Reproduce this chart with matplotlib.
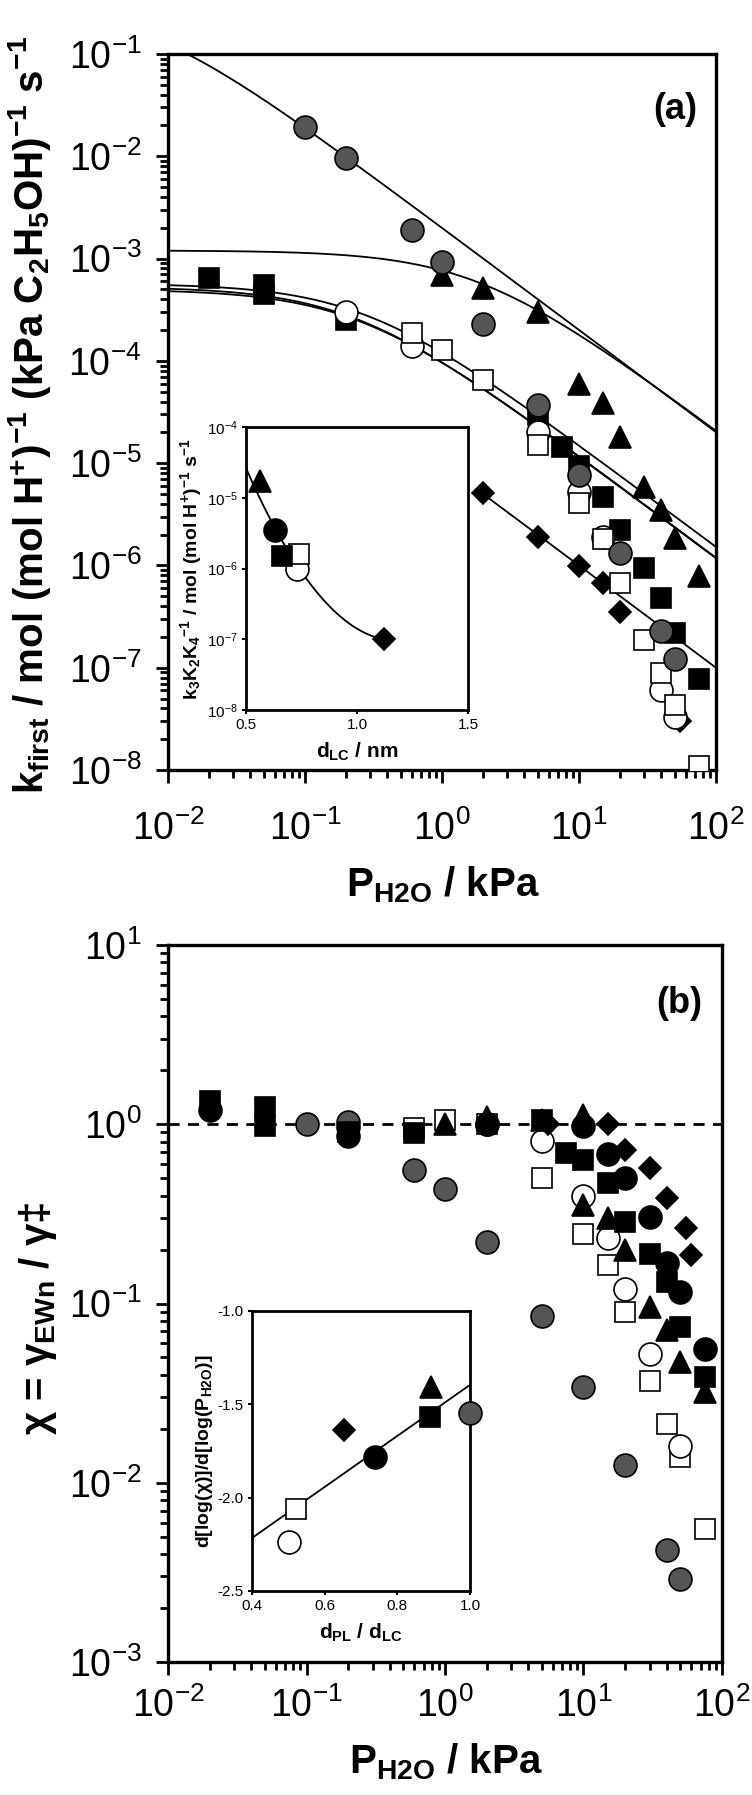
import matplotlib
matplotlib.use('Agg')
import matplotlib.pyplot as plt
import numpy as np
from matplotlib.ticker import LogLocator, NullFormatter, LogFormatterMathtext

plt.rcParams['font.family'] = ['Liberation Sans', 'DejaVu Sans']
plt.rcParams['mathtext.default'] = 'regular'

# ---------------- panel (a): k_first vs P_H2O ----------------
p_gray_a = [0.1, 0.2, 0.6, 1.0, 2, 5, 10, 20, 40, 50]
k_gray_a = [1.95e-2, 9.6e-3, 1.9e-3, 9.3e-4, 2.3e-4, 3.7e-5, 7.6e-6, 1.33e-6, 2.3e-7, 1.23e-7]

p_tri_a = [1.0, 2, 5, 10, 15, 20, 30, 40, 50, 75]
k_tri_a = [6.9e-4, 5.1e-4, 3.0e-4, 6.0e-5, 3.9e-5, 1.8e-5, 5.9e-6, 3.5e-6, 1.85e-6, 7.8e-7]

p_bsq_a = [0.02, 0.05, 0.05, 0.2, 5, 7.5, 10, 15, 20, 30, 40, 50, 75]
k_bsq_a = [6.4e-4, 5.5e-4, 4.5e-4, 2.5e-4, 2.96e-5, 1.45e-5, 9.3e-6, 4.7e-6, 2.2e-6, 9.4e-7, 4.8e-7, 2.2e-7, 7.7e-8]

p_ocir_a = [0.2, 0.6, 5, 10, 15, 40, 50]
k_ocir_a = [3.0e-4, 1.4e-4, 2.0e-5, 5.2e-6, 1.9e-6, 6.0e-8, 3.3e-8]

p_osq_a = [0.6, 1.0, 2, 5, 10, 15, 20, 30, 40, 50, 75]
k_osq_a = [1.86e-4, 1.29e-4, 6.5e-5, 1.5e-5, 4.1e-6, 1.8e-6, 6.7e-7, 1.85e-7, 8.9e-8, 4.3e-8, 1.1e-8]

p_dia_a = [2, 5, 10, 15, 20, 55]
k_dia_a = [5.1e-6, 1.9e-6, 9.8e-7, 6.7e-7, 3.5e-7, 3.0e-8]

# fitted curves k = A / (1 + K P)
fit_A = [0.323, 1.2e-3, 5.7e-4, 5.3e-4, 5.0e-4]
fit_K = [161.0, 0.57, 3.75, 4.5, 4.2]
fit_dia_A, fit_dia_K = 1.0e-3, 100.0

# inset (a)
d_lc = [0.563, 0.63, 0.66, 0.73, 0.74, 1.12]
k_inset = [1.74e-5, 3.5e-6, 1.5e-6, 1.0e-6, 1.6e-6, 1.0e-7]
inset_a_coef = [0.339, -12.487, 5.298]   # log10(k) = c0 + c1 d + c2 d^2

# ---------------- panel (b): chi vs P_H2O ----------------
p_gray_b = [0.1, 0.2, 0.6, 1.0, 2, 5, 10, 20, 40, 50]
x_gray_b = [1.0, 1.03, 0.556, 0.433, 0.221, 0.085, 0.034, 0.0126, 0.0042, 0.0029]

p_osq_b = [0.6, 1.0, 2, 5, 10, 15, 20, 30, 40, 50, 75]
x_osq_b = [0.955, 1.05, 1.0, 0.50, 0.245, 0.164, 0.09, 0.037, 0.0214, 0.014, 0.0055]

p_ocir_b = [0.2, 2, 5, 10, 15, 20, 30, 50]
x_ocir_b = [0.97, 1.0, 0.81, 0.40, 0.231, 0.12, 0.052, 0.016]

p_bsq_b = [0.02, 0.05, 0.05, 0.2, 0.6, 5, 7.5, 10, 15, 20, 30, 40, 50, 75]
x_bsq_b = [1.35, 1.25, 0.98, 0.9, 0.89, 1.05, 0.69, 0.63, 0.47, 0.286, 0.19, 0.132, 0.074, 0.039]

p_tri_b = [1.0, 2, 5, 10, 10, 15, 20, 30, 40, 50, 75]
x_tri_b = [1.0, 1.1, 1.05, 1.12, 0.355, 0.30, 0.20, 0.096, 0.071, 0.047, 0.032]

p_bcir_b = [0.02, 0.2, 2, 10, 15, 20, 30, 40, 50, 75]
x_bcir_b = [1.2, 0.86, 1.0, 0.98, 0.68, 0.50, 0.305, 0.168, 0.116, 0.056]

p_dia_b = [5.5, 15, 20, 30, 40, 55, 60]
x_dia_b = [1.0, 1.0, 0.72, 0.57, 0.39, 0.263, 0.186]

# inset (b)
dpl_dlc = [0.503, 0.521, 0.654, 0.739, 0.891, 0.893, 1.0]
slope_b = [-2.236, -2.062, -1.638, -1.784, -1.566, -1.405, -1.548]
inset_b_line = [-2.216, 1.367]   # y = a + b (x - 0.4)

GRAY = '#555555'
styles = {
    'gray': dict(marker='o', ms=16.5, mfc=GRAY, mec='black'),
    'bcir': dict(marker='o', ms=16.5, mfc='black', mec='black'),
    'ocir': dict(marker='o', ms=16.5, mfc='white', mec='black'),
    'bsq': dict(marker='s', ms=14.5, mfc='black', mec='black'),
    'osq': dict(marker='s', ms=14.5, mfc='white', mec='black'),
    'tri': dict(marker='^', ms=16, mfc='black', mec='black'),
    'dia': dict(marker='D', ms=11.5, mfc='black', mec='black'),
}


def pts(ax, x, y, key, z, clip=True):
    ax.plot(x, y, ls='none', mew=1.2, zorder=z, clip_on=clip, **styles[key])


def style_log_axes(ax, ylo, yhi, xpad):
    ax.set_xscale('log')
    ax.set_yscale('log')
    ax.set_xlim(1e-2, 1e2)
    ax.set_ylim(ylo, yhi)
    for ax_ in (ax.xaxis, ax.yaxis):
        ax_.set_major_locator(LogLocator(base=10, numticks=20))
        ax_.set_minor_locator(LogLocator(base=10, subs=np.arange(2, 10), numticks=20))
        ax_.set_minor_formatter(NullFormatter())
        ax_.set_major_formatter(LogFormatterMathtext())
    ax.tick_params(which='major', direction='out', length=9, width=2, labelsize=27)
    ax.tick_params(which='minor', direction='out', length=6, width=2)
    ax.tick_params(axis='x', which='major', pad=xpad)
    ax.tick_params(axis='y', which='major', pad=10)
    for s in ax.spines.values():
        s.set_linewidth(2.4)


fig = plt.figure(figsize=(7.52, 17.95), dpi=100)

# ---- panel (a)
ax1 = fig.add_axes([168 / 752, 1 - 770 / 1795, 548 / 752, 716 / 1795])
style_log_axes(ax1, 1e-8, 1e-1, 20)
pgrid = np.logspace(-2, 2, 400)
for A, K in zip(fit_A, fit_K):
    ax1.plot(pgrid, A / (1 + K * pgrid), color='black', lw=1.3, zorder=2)
pd = np.logspace(np.log10(2), 2, 100)
ax1.plot(pd, fit_dia_A / (1 + fit_dia_K * pd), color='black', lw=1.3, zorder=2)

pts(ax1, p_dia_a, k_dia_a, 'dia', 3)
pts(ax1, p_tri_a, k_tri_a, 'tri', 4)
pts(ax1, p_bsq_a, k_bsq_a, 'bsq', 5)
pts(ax1, p_ocir_a, k_ocir_a, 'ocir', 6)
pts(ax1, p_osq_a, k_osq_a, 'osq', 7)
pts(ax1, p_gray_a, k_gray_a, 'gray', 8, clip=False)

ax1.text(0.965, 0.922, '(a)', transform=ax1.transAxes, ha='right', va='center',
         fontsize=26, fontweight='bold')
fig.text(30 / 752, 1 - 415 / 1795,
         'k$_{first}$ / mol (mol H$^{+}$)$^{-1}$ (kPa C$_2$H$_5$OH)$^{-1}$ s$^{-1}$',
         rotation=90, ha='center', va='center', fontsize=29, fontweight='bold')
fig.text(443 / 752, 1 - 885 / 1795, 'P$_{H2O}$ / kPa', ha='center', va='center',
         fontsize=29, fontweight='bold')

# inset (a)
axi1 = fig.add_axes([246 / 752, 1 - 710 / 1795, 222 / 752, 283 / 1795])
axi1.set_yscale('log')
axi1.set_xlim(0.5, 1.5)
axi1.set_ylim(1e-8, 1e-4)
axi1.set_xticks([0.5, 1.0, 1.5])
axi1.set_xticklabels(['0.5', '1.0', '1.5'])
axi1.yaxis.set_major_locator(LogLocator(base=10, numticks=10))
axi1.yaxis.set_minor_locator(LogLocator(base=10, subs=[], numticks=10))
axi1.yaxis.set_major_formatter(LogFormatterMathtext())
axi1.tick_params(direction='out', length=3, width=1.5, labelsize=11, pad=3)
for s in axi1.spines.values():
    s.set_linewidth(2)
dg = np.linspace(0.5, max(d_lc), 100)
axi1.plot(dg, 10 ** (inset_a_coef[0] + inset_a_coef[1] * dg + inset_a_coef[2] * dg ** 2),
          color='black', lw=1.3, zorder=2)
keys_a = ['tri', 'bcir', 'bsq', 'ocir', 'osq', 'dia']
z_a = [4, 4, 5, 3, 4, 4]
for xv, yv, kk, zz in zip(d_lc, k_inset, keys_a, z_a):
    axi1.plot(xv, yv, ls='none', zorder=zz, mew=1.2, **styles[kk])
axi1.set_xlabel('d$_{LC}$ / nm', fontsize=15, fontweight='bold', labelpad=6)
axi1.set_ylabel('k$_3$K$_2$K$_4$$^{-1}$ / mol (mol H$^{+}$)$^{-1}$ s$^{-1}$',
                fontsize=14, fontweight='bold', labelpad=2)

# ---- panel (b)
ax2 = fig.add_axes([168 / 752, 1 - 1662 / 1795, 554 / 752, 717 / 1795])
style_log_axes(ax2, 1e-3, 1e1, 9)
ax2.axhline(1.0, color='black', lw=2, ls=(0, (4, 3)), zorder=2)

pts(ax2, p_osq_b, x_osq_b, 'osq', 3)
pts(ax2, p_ocir_b, x_ocir_b, 'ocir', 4)
pts(ax2, p_gray_b, x_gray_b, 'gray', 5)
pts(ax2, p_bsq_b, x_bsq_b, 'bsq', 6)
pts(ax2, p_tri_b, x_tri_b, 'tri', 7)
pts(ax2, p_bcir_b, x_bcir_b, 'bcir', 8, clip=False)
pts(ax2, p_dia_b, x_dia_b, 'dia', 9)

ax2.text(0.965, 0.918, '(b)', transform=ax2.transAxes, ha='right', va='center',
         fontsize=26, fontweight='bold')
fig.text(38 / 752, 1 - 1318 / 1795, 'χ = γ$_{EWn}$ / γ‡', rotation=90,
         ha='center', va='center', fontsize=29, fontweight='bold')
fig.text(446 / 752, 1 - 1762 / 1795, 'P$_{H2O}$ / kPa', ha='center', va='center',
         fontsize=29, fontweight='bold')

# inset (b)
axi2 = fig.add_axes([252 / 752, 1 - 1591 / 1795, 218 / 752, 280 / 1795])
axi2.set_xlim(0.4, 1.0)
axi2.set_ylim(-2.5, -1.0)
axi2.set_xticks([0.4, 0.6, 0.8, 1.0])
axi2.set_yticks([-2.5, -2.0, -1.5, -1.0])
axi2.set_xticklabels(['0.4', '0.6', '0.8', '1.0'])
axi2.set_yticklabels(['-2.5', '-2.0', '-1.5', '-1.0'])
axi2.tick_params(direction='out', length=3, width=1.5, labelsize=11, pad=3)
for s in axi2.spines.values():
    s.set_linewidth(2)
xl = np.array([0.4, 1.0])
axi2.plot(xl, inset_b_line[0] + inset_b_line[1] * (xl - 0.4), color='black', lw=1.3, zorder=2)
keys_b = ['ocir', 'osq', 'dia', 'bcir', 'bsq', 'tri', 'gray']
for xv, yv, kk in zip(dpl_dlc, slope_b, keys_b):
    axi2.plot(xv, yv, ls='none', zorder=4, mew=1.2, clip_on=False, **styles[kk])
axi2.set_xlabel('d$_{PL}$ / d$_{LC}$', fontsize=15, fontweight='bold', labelpad=6)
axi2.set_ylabel('d[log(χ)]/d[log(P$_{H2O}$)]', fontsize=14, fontweight='bold', labelpad=2)

fig.savefig('out.png', dpi=100)
